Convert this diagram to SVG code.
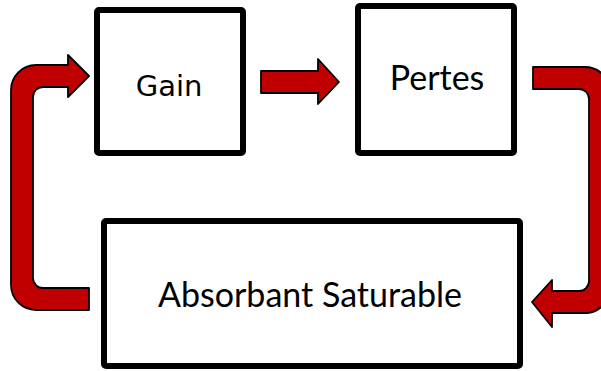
<svg xmlns="http://www.w3.org/2000/svg" width="601" height="371" viewBox="0 0 601 371">
<style>
.box{fill:#fff;stroke:#000;stroke-width:6;stroke-linejoin:round}
.arr{fill:#C00000;stroke:#000;stroke-width:1.8;stroke-linejoin:round}
.lbl{font-family:Lato,"Liberation Sans",sans-serif;font-size:34px;fill:#000;text-anchor:middle}
.lblg{font-family:"DejaVu Sans",sans-serif;font-size:29px;fill:#000;text-anchor:middle}
</style>
<rect width="601" height="371" fill="#fff"/>
<g id="connectors">
<path class="arr" d="M89 310 L36 310 A25 25 0 0 1 11 285 L11 90 A25 25 0 0 1 36 65 L68 65 L68 55 L89 76 L68 97 L68 87 L43 87 A10 10 0 0 0 33 97 L33 278 A10 10 0 0 0 43 288 L89 288 Z"/>
<path class="arr" d="M261 71 L318 71 L318 59 L339 82 L318 104 L318 93 L261 93 Z"/>
<path class="arr" d="M533 67 L585 67 A25 25 0 0 1 610 92 L610 288 A25 25 0 0 1 585 313 L552 313 L552 327 L532 302 L552 280 L552 291 L579 291 A10 10 0 0 0 589 281 L589 99 A10 10 0 0 0 579 89 L533 89 Z"/>
</g>
<g id="gain">
<rect class="box" x="97" y="10" width="146" height="143" rx="2"/>
<text class="lblg" x="169" y="96">Gain</text>
</g>
<g id="pertes">
<rect class="box" x="358" y="6" width="156" height="147" rx="2"/>
<text class="lbl" x="437" y="90">Pertes</text>
</g>
<g id="absorbant">
<rect class="box" x="104" y="221" width="416" height="145" rx="2"/>
<text class="lbl" x="310" y="307">Absorbant Saturable</text>
</g>
</svg>
